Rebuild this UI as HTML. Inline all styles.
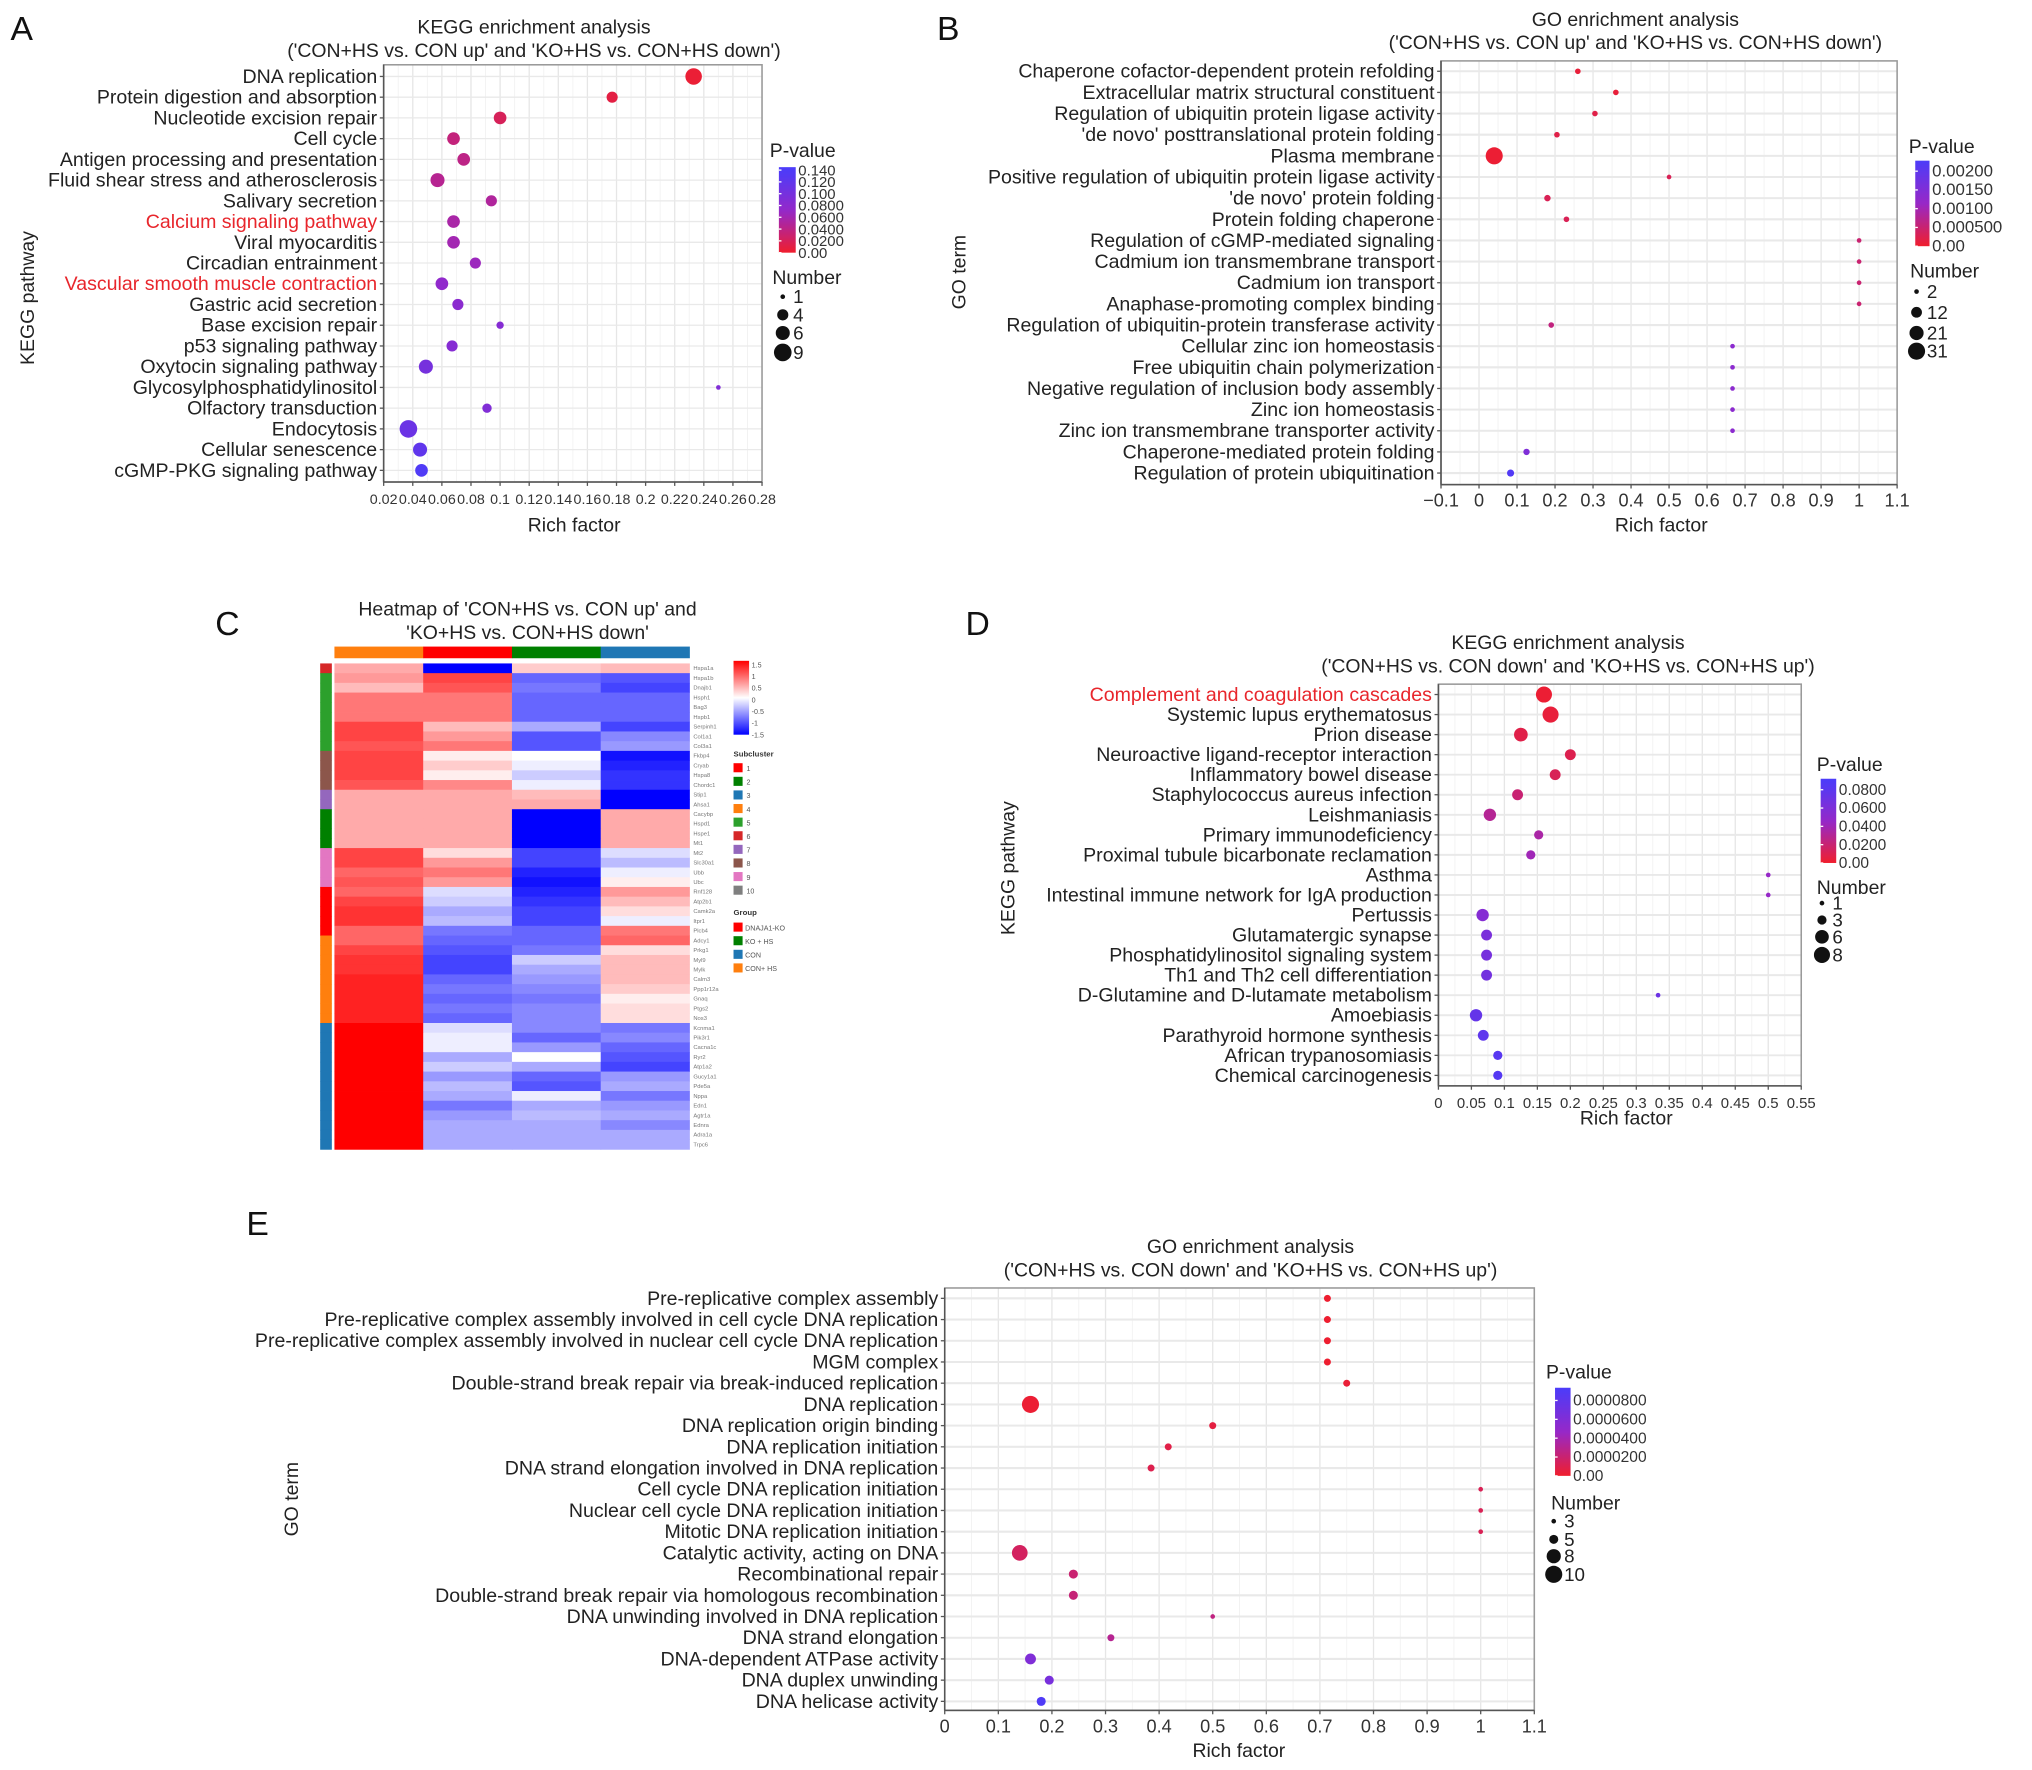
<!DOCTYPE html>
<html><head><meta charset="utf-8">
<style>
html,body{margin:0;padding:0;background:#fff;}
svg{display:block;font-family:"Liberation Sans",Arial,sans-serif;}
</style></head>
<body>
<svg id="fig" xmlns="http://www.w3.org/2000/svg" width="2032" height="1770" viewBox="0 0 1568 1366">
<rect x="0" y="0" width="1568" height="1366" fill="#fff"/>
<text x="8" y="31" font-size="26" fill="#111">A</text>
<text x="723" y="31" font-size="26" fill="#111">B</text>
<text x="166" y="490" font-size="26" fill="#111">C</text>
<text x="745" y="490" font-size="26" fill="#111">D</text>
<text x="190" y="953" font-size="26" fill="#111">E</text>
</svg>
<script>
// ---------- Panel A data ----------
const aLabels=["DNA replication","Protein digestion and absorption","Nucleotide excision repair","Cell cycle","Antigen processing and presentation","Fluid shear stress and atherosclerosis","Salivary secretion","Calcium signaling pathway","Viral myocarditis","Circadian entrainment","Vascular smooth muscle contraction","Gastric acid secretion","Base excision repair","p53 signaling pathway","Oxytocin signaling pathway","Glycosylphosphatidylinositol","Olfactory transduction","Endocytosis","Cellular senescence","cGMP-PKG signaling pathway"];
const aRich=[0.233,0.177,0.1,0.068,0.075,0.057,0.094,0.068,0.068,0.083,0.06,0.071,0.1,0.067,0.049,0.25,0.091,0.037,0.045,0.046];
const aNum=[8,4,5,5,5,6,4,5,5,4,5,4,2,4,6,1,3,9,6,5];
const aP=[0.004,0.01,0.02,0.035,0.04,0.045,0.05,0.055,0.06,0.065,0.075,0.08,0.085,0.085,0.1,0.09,0.09,0.11,0.12,0.135];
const aTicks=[0.02,0.04,0.06,0.08,0.1,0.12,0.14,0.16,0.18,0.2,0.22,0.24,0.26,0.28];
const aTickLabels=["0.02","0.04","0.06","0.08","0.1","0.12","0.14","0.16","0.18","0.2","0.22","0.24","0.26","0.28"];
const aPTicks=[0.14,0.12,0.1,0.08,0.06,0.04,0.02,0];
const aPTickLabels=["0.140","0.120","0.100","0.0800","0.0600","0.0400","0.0200","0.00"];
const aNumLegend=[1,4,6,9];
// ---------- Panel B data ----------
const bLabels=["Chaperone cofactor-dependent protein refolding","Extracellular matrix structural constituent","Regulation of ubiquitin protein ligase activity","'de novo' posttranslational protein folding","Plasma membrane","Positive regulation of ubiquitin protein ligase activity","'de novo' protein folding","Protein folding chaperone","Regulation of cGMP-mediated signaling ","Cadmium ion transmembrane transport","Cadmium ion transport","Anaphase-promoting complex binding","Regulation of ubiquitin-protein transferase activity","Cellular zinc ion homeostasis","Free ubiquitin chain polymerization","Negative regulation of inclusion body assembly","Zinc ion homeostasis","Zinc ion transmembrane transporter activity","Chaperone-mediated protein folding","Regulation of protein ubiquitination"];
const bRich=[0.26,0.36,0.305,0.205,0.04,0.5,0.18,0.23,1.0,1.0,1.0,1.0,0.19,0.667,0.667,0.667,0.667,0.667,0.125,0.083];
const bNum=[3,3,3,3,31,2,4,3,2,2,2,2,3,2,2,2,2,2,4,5];
const bP=[0.0001,0.0001,0.0002,0.0002,0.00005,0.0003,0.0003,0.0003,0.0005,0.0005,0.0005,0.0005,0.0006,0.0013,0.0013,0.0013,0.0013,0.0013,0.0015,0.0022];
const bTicks=[-0.1,0,0.1,0.2,0.3,0.4,0.5,0.6,0.7,0.8,0.9,1.0,1.1];
const bTickLabels=["\u22120.1","0","0.1","0.2","0.3","0.4","0.5","0.6","0.7","0.8","0.9","1","1.1"];
const bPTicks=[0.002,0.0015,0.001,0.0005,0];
const bPTickLabels=["0.00200","0.00150","0.00100","0.000500","0.00"];
const bNumLegend=[2,12,21,31];
// ---------- Panel D data ----------
const dLabels=["Complement and coagulation cascades","Systemic lupus erythematosus","Prion disease","Neuroactive ligand-receptor interaction","Inflammatory bowel disease","Staphylococcus aureus infection","Leishmaniasis","Primary immunodeficiency","Proximal tubule bicarbonate reclamation","Asthma","Intestinal immune network for IgA production","Pertussis","Glutamatergic synapse","Phosphatidylinositol signaling system","Th1 and Th2 cell differentiation","D-Glutamine and D-lutamate metabolism","Amoebiasis","Parathyroid hormone synthesis","African trypanosomiasis","Chemical carcinogenesis"];
const dRich=[0.16,0.17,0.125,0.2,0.177,0.12,0.078,0.152,0.14,0.5,0.5,0.067,0.073,0.073,0.073,0.333,0.057,0.068,0.09,0.09];
const dNum=[8,8,6,4,4,4,5,3,3,1,1,5,4,4,4,1,5,4,3,3];
const dP=[0.002,0.004,0.008,0.01,0.012,0.02,0.03,0.035,0.04,0.045,0.045,0.055,0.062,0.064,0.066,0.07,0.075,0.078,0.082,0.084];
const dTicks=[0,0.05,0.1,0.15,0.2,0.25,0.3,0.35,0.4,0.45,0.5,0.55];
const dTickLabels=["0","0.05","0.1","0.15","0.2","0.25","0.3","0.35","0.4","0.45","0.5","0.55"];
const dPTicks=[0.08,0.06,0.04,0.02,0];
const dPTickLabels=["0.0800","0.0600","0.0400","0.0200","0.00"];
const dNumLegend=[1,3,6,8];
// ---------- Panel E data ----------
const eLabels=["Pre-replicative complex assembly","Pre-replicative complex assembly involved in cell cycle DNA replication","Pre-replicative complex assembly involved in nuclear cell cycle DNA replication","MGM complex","Double-strand break repair via break-induced replication","DNA replication","DNA replication origin binding","DNA replication initiation","DNA strand elongation involved in DNA replication","Cell cycle DNA replication initiation","Nuclear cell cycle DNA replication initiation","Mitotic DNA replication initiation","Catalytic activity, acting on DNA","Recombinational repair","Double-strand break repair via homologous recombination","DNA unwinding involved in DNA replication","DNA strand elongation","DNA-dependent ATPase activity","DNA duplex unwinding","DNA helicase activity"];
const eRich=[0.714,0.714,0.714,0.714,0.75,0.16,0.5,0.417,0.385,1.0,1.0,1.0,0.14,0.24,0.24,0.5,0.31,0.16,0.195,0.18];
const eNum=[4,4,4,4,4,10,4,4,4,3,3,3,9,5,5,3,4,6,5,5];
const eP=[0.000001,0.000001,0.000001,0.000001,0.000003,0.000002,0.000006,0.000008,0.00001,0.000012,0.000012,0.000012,0.000015,0.00002,0.000022,0.000025,0.00003,0.00006,0.000065,0.00009];
const eTicks=[0,0.1,0.2,0.3,0.4,0.5,0.6,0.7,0.8,0.9,1.0,1.1];
const eTickLabels=["0","0.1","0.2","0.3","0.4","0.5","0.6","0.7","0.8","0.9","1","1.1"];
const ePTicks=[0.00008,0.00006,0.00004,0.00002,0];
const ePTickLabels=["0.0000800","0.0000600","0.0000400","0.0000200","0.00"];
const eNumLegend=[3,5,8,10];
// ---------- Panel C heatmap data ----------
const hmGroups=["CON+ HS","DNAJA1-KO","KO + HS","CON"];
const hmValues=[
[0.5,-1.5,0.3,0.4],[0.6,1.1,-0.9,-1.0],[0.4,1.0,-0.8,-1.1],[0.8,0.8,-0.9,-0.9],[0.8,0.8,-0.9,-0.9],
[0.8,0.8,-0.9,-0.9],[1.1,0.4,-0.5,-1.1],[1.1,0.6,-1.0,-0.7],[1.0,0.8,-1.0,-0.6],[1.1,0.1,0.0,-1.4],
[1.1,0.3,-0.1,-1.3],[1.1,0.1,-0.3,-1.2],[1.0,0.7,-0.1,-1.2],[0.5,0.5,0.4,-1.5],[0.5,0.5,0.5,-1.5],
[0.5,0.5,-1.5,0.5],[0.5,0.5,-1.5,0.5],[0.5,0.5,-1.5,0.5],[0.5,0.5,-1.5,0.5],[1.1,0.2,-1.1,-0.2],
[1.1,0.6,-1.1,-0.4],[0.9,0.8,-1.3,-0.1],[1.0,0.6,-1.4,0.1],[0.9,-0.2,-1.3,0.6],[1.1,-0.3,-1.2,0.4],
[1.2,-0.5,-1.1,0.2],[1.2,-0.4,-1.1,-0.1],[0.9,-0.8,-0.9,0.8],[0.9,-0.9,-0.9,0.9],[1.1,-1.0,-0.8,0.2],
[1.2,-1.1,-0.3,0.4],[1.2,-1.1,-0.5,0.4],[1.3,-0.9,-0.6,0.4],[1.3,-0.8,-0.7,0.3],[1.3,-0.9,-0.8,0.1],
[1.3,-0.8,-0.7,0.2],[1.3,-0.9,-0.7,0.2],[1.5,-0.2,-0.7,-0.8],[1.5,-0.1,-0.9,-0.7],[1.5,-0.1,-0.6,-0.9],
[1.5,-0.5,0.0,-1.0],[1.5,-0.3,-0.5,-1.1],[1.5,-0.6,-0.9,-0.6],[1.5,-0.4,-1.0,-0.5],[1.5,-0.5,-0.1,-0.8],
[1.5,-0.8,-0.5,-0.6],[1.5,-0.6,-0.4,-0.5],[1.5,-0.5,-0.5,-0.7],[1.5,-0.5,-0.5,-0.5],[1.5,-0.5,-0.5,-0.5]];
const hmRowCluster=[6,5,5,5,5,5,5,5,5,8,8,8,8,7,7,2,2,2,2,9,9,9,9,1,1,1,1,1,4,4,4,4,4,4,4,4,4,3,3,3,3,3,3,3,3,3,3,3,3,3];
const hmGenes=["Hspa1a","Hspa1b","Dnajb1","Hsph1","Bag3","Hspb1","Serpinh1","Col1a1","Col3a1","Fkbp4","Cryab","Hspa8","Chordc1","Stip1","Ahsa1","Cacybp","Hspd1","Hspe1","Mt1","Mt2","Slc30a1","Ubb","Ubc","Rnf128","Atp2b1","Camk2a","Itpr1","Plcb4","Adcy1","Prkg1","Myl9","Mylk","Calm3","Ppp1r12a","Gnaq","Ptgs2","Nos3","Kcnma1","Pik3r1","Cacna1c","Ryr2","Atp1a2","Gucy1a1","Pde5a","Nppa","Edn1","Agtr1a","Ednra","Adra1a","Trpc6"];
const hmScale=[1.5,1,0.5,0,-0.5,-1,-1.5];
const subColors=["#ff0000","#008000","#1f77b4","#ff7f0e","#2ca02c","#d62728","#9467bd","#8c564b","#e377c2","#7f7f7f"];
const subNames=["1","2","3","4","5","6","7","8","9","10"];
const groupLegendNames=["DNAJA1-KO","KO + HS","CON","CON+ HS"];
const groupLegendColors=["#ff0000","#008000","#1f77b4","#ff7f0e"];
const hmGroupColors=["#ff7f0e","#ff0000","#008000","#1f77b4"];

const NS="http://www.w3.org/2000/svg";
const svg=document.getElementById("fig");
function mk(tag,attrs,parent){const e=document.createElementNS(NS,tag);for(const k in attrs)e.setAttribute(k,attrs[k]);parent.appendChild(e);return e;}
function txt(parent,x,y,s,size,anchor,fill){const t=mk("text",{x:x,y:y,"font-size":size,"text-anchor":anchor||"start",fill:fill||"#222"},parent);t.textContent=s;return t;}
function lerp(a,b,t){return Math.round(a+(b-a)*t);}
function pColor(p,pmax){let t=Math.max(0,Math.min(1,p/pmax));const s=[[240,30,45],[150,40,200],[75,60,250]];let a,b,u;if(t<0.5){a=s[0];b=s[1];u=t/0.5;}else{a=s[1];b=s[2];u=(t-0.5)/0.5;}return "rgb("+lerp(a[0],b[0],u)+","+lerp(a[1],b[1],u)+","+lerp(a[2],b[2],u)+")";}

let gradId=0;
function dotplot(c,labels,rich,num,pv,ticks,tickLabels,pTicks,pTickLabels,numLegend){
  const g=mk("g",{},svg);
  
  
  const xs=v=>c.l+(v-c.xmin)/(c.xmax-c.xmin)*(c.r-c.l);
  const ys=i=>c.y0+i*c.dy;
  const rs=n=>c.rmin+(c.rmax-c.rmin)*(Math.sqrt(n)-Math.sqrt(c.nmin))/(Math.sqrt(c.nmax)-Math.sqrt(c.nmin));
  mk("rect",{x:c.l,y:c.t,width:c.r-c.l,height:c.b-c.t,fill:"#fff"},g);
  for(let i=0;i<ticks.length;i++){
    const gl=mk("line",{x1:xs(ticks[i]),x2:xs(ticks[i]),y1:c.t,y2:c.b,stroke:"#e6e6e6","stroke-width":1},g);
    
    
    if(i<ticks.length-1){const m=(ticks[i]+ticks[i+1])/2;mk("line",{x1:xs(m),x2:xs(m),y1:c.t,y2:c.b,stroke:"#f2f2f2","stroke-width":0.7},g);}
  }
  for(let i=0;i<labels.length;i++){
    const gl=mk("line",{x1:c.l,x2:c.r,y1:ys(i),y2:ys(i),stroke:"#e9e9e9","stroke-width":c.hw||1},g);
    
    
  }
  mk("rect",{x:c.l,y:c.t,width:c.r-c.l,height:c.b-c.t,fill:"none",stroke:"#9a9a9a","stroke-width":1.2},g);
  mk("line",{x1:c.l,x2:c.l,y1:c.t,y2:c.b,stroke:"#555","stroke-width":1.2},g);
  mk("line",{x1:c.l,x2:c.r,y1:c.b,y2:c.b,stroke:"#555","stroke-width":1.2},g);
  for(let i=0;i<labels.length;i++){
    mk("line",{x1:c.l-3,x2:c.l,y1:ys(i),y2:ys(i),stroke:"#555"},g);
    const red=c.red&&c.red.indexOf(i)>=0;
    const t=txt(g,c.l-5,ys(i)+5,labels[i],c.fs||15.1,"end",red?"#e8262c":"#222");
    
    
  }
  for(let i=0;i<ticks.length;i++){
    mk("line",{x1:xs(ticks[i]),x2:xs(ticks[i]),y1:c.b,y2:c.b+3,stroke:"#555"},g);
    const t=txt(g,xs(ticks[i]),c.b+17,tickLabels[i],c.tfs||13,"middle","#333");
    
    
  }
  for(let i=0;i<labels.length;i++){
    const d=mk("circle",{cx:xs(rich[i]),cy:ys(i),r:rs(num[i]),fill:pColor(pv[i],c.pmax)},g);
    
    
  }
  const tl=c.title;
  let t=txt(g,tl[0],tl[1],tl[2],15,"middle","#222");
  
  
  t=txt(g,tl[0],tl[1]+18,tl[3],15,"middle","#222");
  
  
  t=txt(g,c.xt[0],c.xt[1],"Rich factor",15,"middle","#222");
  
  
  t=txt(g,0,0,c.yt[2],15,"middle","#222");
  t.setAttribute("transform","translate("+c.yt[0]+","+c.yt[1]+") rotate(-90)");
  
  
  const L=c.leg;
  t=txt(g,L.tx,L.ty,"P-value",15,"start","#222");
  
  
  const id="grad"+(gradId++);
  const defs=mk("defs",{},g);
  const lg=mk("linearGradient",{id:id,x1:0,y1:1,x2:0,y2:0},defs);
  for(let k=0;k<=10;k++){mk("stop",{offset:k/10,"stop-color":pColor(L.ctop*k/10,c.pmax)},lg);}
  const cb=mk("rect",{x:L.cx,y:L.cy0,width:L.cw,height:L.cy1-L.cy0,fill:"url(#"+id+")"},g);
  
  
  const py=v=>L.cy1-v/L.ctop*(L.cy1-L.cy0);
  for(let i=0;i<pTicks.length;i++){
    mk("line",{x1:L.cx,x2:L.cx+2,y1:py(pTicks[i]),y2:py(pTicks[i]),stroke:"#fff"},g);
    t=txt(g,L.cx+L.cw+2,py(pTicks[i])+4,pTickLabels[i],L.lfs||12,"start","#333");
    
    
  }
  t=txt(g,L.nx,L.ny,"Number",15,"start","#222");
  
  
  for(let i=0;i<numLegend.length;i++){
    const cc=mk("circle",{cx:L.dx,cy:L.dys[i],r:rs(numLegend[i]),fill:"#111"},g);
    
    
    t=txt(g,L.dx+8,L.dys[i]+5,String(numLegend[i]),14.5,"start","#222");
    
    
  }
}

dotplot({name:"kegg-up-chart",l:296,r:588,t:50,b:372,xmin:0.02,xmax:0.28,y0:59,dy:16,pmax:0.14,nmin:1,nmax:9,rmin:1.8,rmax:6.8,red:[7,10],tfs:11,
  title:[412,26,"KEGG enrichment analysis","('CON+HS vs. CON up' and 'KO+HS vs. CON+HS down')"],xt:[443,410],yt:[26,230,"KEGG pathway"],
  leg:{tx:594,ty:121,cx:601,cw:13,cy0:129,cy1:195,ctop:0.145,lfs:11.5,nx:596,ny:219,dx:604,dys:[229,243,257,272]}},
  aLabels,aRich,aNum,aP,aTicks,aTickLabels,aPTicks,aPTickLabels,aNumLegend);

dotplot({name:"go-up-chart",l:1112,r:1464,t:47,b:374,xmin:-0.1,xmax:1.1,y0:55,dy:16.32,pmax:0.0023,nmin:2,nmax:31,rmin:1.8,rmax:6.6,hw:1.6,tfs:14,
  title:[1262,20,"GO enrichment analysis","('CON+HS vs. CON up' and 'KO+HS vs. CON+HS down')"],xt:[1282,410],yt:[745,210,"GO term"],
  leg:{tx:1473,ty:118,cx:1478,cw:11,cy0:124,cy1:190,ctop:0.00228,lfs:13,nx:1474,ny:214,dx:1479,dys:[225,241,257,271]}},
  bLabels,bRich,bNum,bP,bTicks,bTickLabels,bPTicks,bPTickLabels,bNumLegend);

dotplot({name:"kegg-down-chart",l:1110,r:1390,t:528,b:838,xmin:0,xmax:0.55,y0:536,dy:15.47,pmax:0.09,nmin:1,nmax:8,rmin:1.8,rmax:6.2,red:[0],hw:1.5,tfs:11.5,
  title:[1210,501,"KEGG enrichment analysis","('CON+HS vs. CON down' and 'KO+HS vs. CON+HS up')"],xt:[1255,868],yt:[783,670,"KEGG pathway"],
  leg:{tx:1402,ty:595,cx:1405,cw:12,cy0:601,cy1:666,ctop:0.092,lfs:12,nx:1402,ny:690,dx:1406,dys:[697,710,723,737]}},
  dLabels,dRich,dNum,dP,dTicks,dTickLabels,dPTicks,dPTickLabels,dNumLegend);

dotplot({name:"go-down-chart",l:729,r:1184,t:994,b:1320,xmin:0,xmax:1.1,y0:1002,dy:16.37,pmax:0.000093,nmin:3,nmax:10,rmin:1.8,rmax:6.6,hw:1.6,tfs:14,
  title:[965,967,"GO enrichment analysis","('CON+HS vs. CON down' and 'KO+HS vs. CON+HS up')"],xt:[956,1356],yt:[230,1157,"GO term"],
  leg:{tx:1193,ty:1064,cx:1200,cw:12,cy0:1071,cy1:1139,ctop:0.0000935,lfs:12,nx:1197,ny:1165,dx:1199,dys:[1174,1188,1201,1215]}},
  eLabels,eRich,eNum,eP,eTicks,eTickLabels,ePTicks,ePTickLabels,eNumLegend);

// ---------- Heatmap ----------
(function(){
  const g=mk("g",{},svg);
  
  
  const L=258,R=532,T=512,B=887,nc=hmGroups.length,nr=hmValues.length;
  const cw=(R-L)/nc,rh=(B-T)/nr;
  function hcol(v){const t=Math.max(-1,Math.min(1,v/1.5));if(t>=0)return "rgb(255,"+lerp(255,0,t)+","+lerp(255,0,t)+")";const u=-t;return "rgb("+lerp(255,0,u)+","+lerp(255,0,u)+",255)";}
  let t=txt(g,407,475,"Heatmap of 'CON+HS vs. CON up' and",15,"middle","#222");
  
  
  t=txt(g,407,493,"'KO+HS vs. CON+HS down'",15,"middle","#222");
  
  
  for(let j=0;j<nc;j++){
    const r=mk("rect",{x:L+j*cw,y:499,width:cw+0.3,height:9,fill:hmGroupColors[j]},g);
    
    
  }
  for(let i=0;i<nr;i++){
    for(let j=0;j<nc;j++){
      const r=mk("rect",{x:L+j*cw,y:T+i*rh,width:cw+0.3,height:rh+0.3,fill:hcol(hmValues[i][j])},g);
      
      
    }
    const s=mk("rect",{x:247,y:T+i*rh,width:9,height:rh+0.3,fill:subColors[hmRowCluster[i]-1]},g);
    
    
    t=txt(g,535,T+i*rh+rh*0.7,hmGenes[i],4.5,"start","#777");
    
    
  }
  const defs=mk("defs",{},g);
  const lg=mk("linearGradient",{id:"hmgrad",x1:0,y1:1,x2:0,y2:0},defs);
  for(let k=0;k<=10;k++){mk("stop",{offset:k/10,"stop-color":hcol(-1.5+3*k/10)},lg);}
  const cb=mk("rect",{x:566,y:510,width:12,height:57,fill:"url(#hmgrad)"},g);
  
  
  for(let k=0;k<hmScale.length;k++){
    t=txt(g,580,513+(1.5-hmScale[k])/3*54+2,String(hmScale[k]),5.5,"start","#555");
    
    
  }
  t=txt(g,566,584,"Subcluster",6,"start","#333");
  t.setAttribute('font-weight','bold');
  
  
  for(let k=0;k<subNames.length;k++){
    const y=589+k*10.5;
    const r=mk("rect",{x:566,y:y,width:7,height:7,fill:subColors[k]},g);
    
    
    t=txt(g,576,y+6,subNames[k],5.5,"start","#555");
    
    
  }
  t=txt(g,566,706,"Group",6,"start","#333");
  t.setAttribute('font-weight','bold');
  
  
  for(let k=0;k<groupLegendNames.length;k++){
    const y=712+k*10.5;
    const r=mk("rect",{x:566,y:y,width:7,height:7,fill:groupLegendColors[k]},g);
    
    
    t=txt(g,575,y+6,groupLegendNames[k],5.5,"start","#555");
    
    
  }
})();
</script>
</body></html>
